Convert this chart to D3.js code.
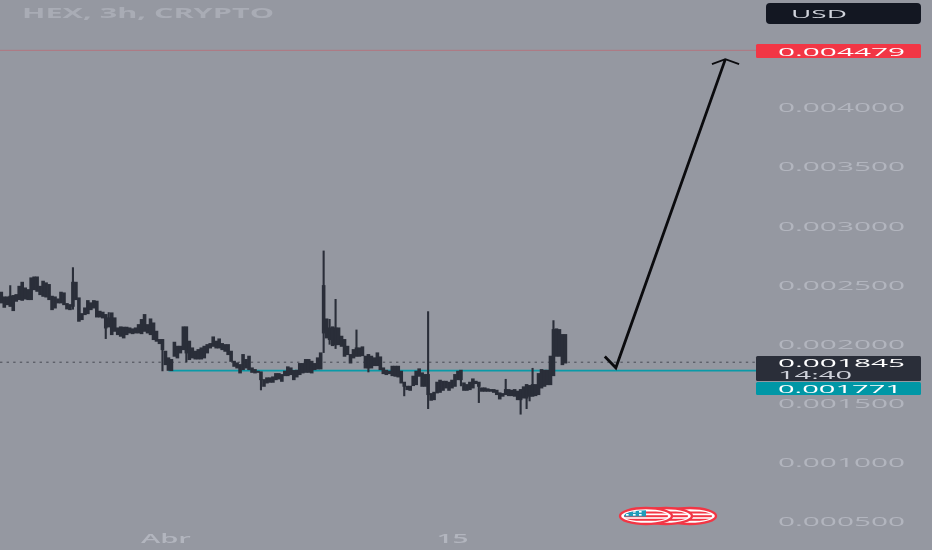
<!DOCTYPE html>
<html><head><meta charset="utf-8">
<style>html,body{margin:0;padding:0;background:#9598a1;overflow:hidden}svg{display:block;filter:blur(.35px)}text{font-family:"Open Sans","Liberation Sans",sans-serif}</style>
<script src="https://cdn.jsdelivr.net/npm/d3@7"></script>
</head><body><svg id="c" width="932" height="550"></svg>
<script>
// all prices in millionths of USD
const bodyHigh=[2434,2394,2394,2400,2406,2414,2484,2518,2470,2456,2555,2563,2563,2484,2527,2513,2499,2400,2394,2377,2434,2428,2338,2329,2518,2518,2386,2253,2301,2363,2344,2363,2358,2273,2265,2245,2217,2259,2217,2132,2141,2138,2138,2132,2124,2132,2160,2203,2245,2160,2208,2174,2104,2034,2034,1935,1879,1865,2011,1977,1977,2141,2141,2020,1963,1935,1949,1963,1977,1991,2000,2056,2020,2039,2000,1991,1991,1935,1850,1836,1822,1907,1865,1893,1794,1780,1766,1760,1695,1710,1710,1718,1746,1746,1738,1766,1803,1794,1772,1774,1831,1831,1865,1865,1850,1831,1879,1921,2490,2208,2132,2141,2132,2132,2062,2034,1977,1907,1949,1963,1963,1972,1893,1907,1893,1879,1921,1887,1794,1774,1766,1808,1808,1808,1766,1673,1639,1639,1724,1766,1786,1752,1738,1738,1577,1588,1673,1690,1681,1681,1673,1690,1738,1766,1774,1667,1653,1673,1701,1681,1673,1625,1625,1617,1611,1611,1605,1583,1577,1611,1611,1605,1611,1597,1611,1634,1653,1645,1653,1653,1746,1780,1774,1774,1893,2118,2124,2118,2076,2076];
const bodyLow=[2344,2307,2329,2315,2279,2358,2372,2366,2377,2372,2372,2456,2442,2414,2400,2394,2372,2287,2301,2344,2344,2329,2293,2287,2315,2372,2189,2203,2245,2253,2287,2301,2225,2225,2217,2132,2141,2076,2104,2076,2062,2048,2076,2090,2084,2090,2090,2084,2104,2090,2076,2034,2020,2000,1949,1822,1774,1772,1893,1879,1921,1949,1921,1865,1879,1870,1870,1870,1879,1921,1963,1977,1963,1963,1949,1935,1907,1850,1808,1794,1752,1780,1794,1780,1757,1752,1757,1695,1639,1667,1673,1673,1695,1701,1681,1729,1729,1738,1695,1718,1738,1752,1757,1757,1752,1780,1786,1786,2090,2048,2034,1983,1991,1991,1977,1893,1907,1836,1879,1893,1893,1898,1794,1794,1794,1814,1814,1780,1746,1738,1746,1729,1724,1718,1667,1639,1611,1605,1645,1653,1724,1639,1639,1569,1521,1526,1583,1588,1605,1625,1605,1625,1639,1695,1695,1605,1605,1611,1625,1662,1639,1597,1597,1597,1597,1588,1569,1532,1555,1569,1560,1560,1555,1526,1526,1540,1540,1555,1555,1560,1569,1625,1639,1653,1653,1729,1893,1893,1822,1836];
const wickBars=[3,24,35,36,54,62,87,108,110,112,119,123,135,143,154,160,169,174,176,177,178,185];
const wickHigh=[2493,2645,2245,2265,2034,2141,1760,2786,2208,2377,2118,1907,1673,2273,1774,1673,1701,1611,1653,1645,1794,2197];
const wickLow=[2315,2287,2039,2141,1766,1842,1605,1921,1991,1955,1893,1757,1555,1447,1639,1498,1569,1400,1447,1512,1555,1729];
const priceTicks=[4000,3500,3000,2500,2000,1500,1000,500];
const timeTickBars=[55,151];
const timeTickLabels=["Abr","15"];
const lastPrice=1845, targetPrice=4479, supportPrice=1771;
const arrowIdx=[202.2,205.9,242.6];
const arrowPrices=[1890,1795,4405];
const arrowHeadIdx=[238.1,242.6,247.2];
const arrowHeadPrices=[4362,4405,4362];

const svg=d3.select("#c");
const x=d3.scaleLinear().domain([0,189]).range([1.3,565.4]);
const y=d3.scaleLinear().domain([500e-6,4000e-6]).range([521,107]);
const P=v=>v*1e-6;
const dark="#2a2e39";
const axisW=127;

// guides
svg.append("line").attr("x1",0).attr("x2",757).attr("y1",y(P(targetPrice))).attr("y2",y(P(targetPrice))).attr("stroke","#b27580").attr("stroke-width",1);
svg.append("line").attr("x1",0).attr("x2",757).attr("y1",y(P(lastPrice))+.3).attr("y2",y(P(lastPrice))+.3).attr("stroke","#474a54").attr("stroke-width",1).attr("stroke-dasharray","2.4 4.2");
svg.append("line").attr("x1",x(56)).attr("x2",757).attr("y1",y(P(supportPrice))).attr("y2",y(P(supportPrice))).attr("stroke","#0a9aa8").attr("stroke-width",1.8);

// candles
const idx=d3.range(bodyHigh.length);
svg.append("g").selectAll("rect").data(idx).join("rect")
 .attr("x",i=>x(i)-1.8).attr("width",3.6)
 .attr("y",i=>y(P(bodyHigh[i]))-.5).attr("height",i=>Math.max(2,y(P(bodyLow[i]))-y(P(bodyHigh[i]))+1))
 .attr("fill",dark);
svg.append("g").selectAll("line").data(wickBars).join("line")
 .attr("x1",i=>x(i)).attr("x2",i=>x(i))
 .attr("y1",(i,k)=>y(P(wickHigh[k]))).attr("y2",(i,k)=>y(P(wickLow[k])))
 .attr("stroke",dark).attr("stroke-width",2.1);

// arrow
const ln=d3.line().x(d=>x(d[0])).y(d=>y(P(d[1])));
svg.append("path").attr("d",ln(d3.zip(arrowIdx,arrowPrices))).attr("fill","none").attr("stroke","#0b0b0e").attr("stroke-width",2.8);
svg.append("path").attr("d",ln(d3.zip(arrowHeadIdx,arrowHeadPrices))).attr("fill","none").attr("stroke","#0b0b0e").attr("stroke-width",1.8);

// price axis
const gy=svg.append("g").attr("transform","translate(778,1)").call(d3.axisRight(y).tickValues(priceTicks.map(P)).tickSize(0).tickPadding(0).tickFormat(d3.format(".6f")));
gy.select(".domain").remove();
gy.selectAll("text").attr("fill","#b2b5be").attr("font-size",12).attr("textLength",axisW).attr("lengthAdjust","spacingAndGlyphs");

// time axis
const gx=svg.append("g").attr("transform","translate(0,534)").call(d3.axisBottom(x).tickValues(timeTickBars).tickSize(0).tickPadding(0).tickFormat((d,i)=>timeTickLabels[i]));
gx.select(".domain").remove();
gx.selectAll("text").attr("fill","#b2b5be").attr("font-size",12.5).attr("font-weight",600).attr("textLength",(d,i)=>i?32:50).attr("lengthAdjust","spacingAndGlyphs");

// title
svg.append("text").text("HEX, 3h, CRYPTO").attr("x",22).attr("y",18).attr("fill","#a9acb5").attr("font-size",14).attr("font-weight",700).attr("textLength",252).attr("lengthAdjust","spacingAndGlyphs");

// tags
function tag(yTop,h,fill,xL){svg.append("rect").attr("x",xL).attr("y",yTop).attr("width",921-xL).attr("height",h).attr("rx",1.5).attr("fill",fill);}
function tagText(t,yb,c,w,xL,fw){svg.append("text").text(t).attr("x",xL).attr("y",yb).attr("fill",c).attr("font-size",11.5).attr("font-weight",fw||500).attr("textLength",w).attr("lengthAdjust","spacingAndGlyphs");}
svg.append("rect").attr("x",766).attr("y",3).attr("width",155).attr("height",21).attr("rx",4).attr("fill","#131722");
tagText("USD",18,"#d1d4dc",56,791);
tag(44,14,"#f23645",756);
tagText("0.004479",55.5,"#ffffff",127,778);
tag(356,25,dark,756);
tagText("0.001845",367,"#ffffff",127,778);
tagText("14:40",379,"#d1d4dc",74,778);
tag(382,13,"#0097a6",756);
tagText("0.001771",393,"#ffffff",124,778);

// flag marks
const flagCx=[690,666,646];
const defs=svg.append("defs");
flagCx.forEach((cx,k)=>{
  const id="f"+k;
  defs.append("clipPath").attr("id",id).append("ellipse").attr("cx",cx).attr("cy",516).attr("rx",22).attr("ry",5.8);
  const g=svg.append("g");
  g.append("ellipse").attr("cx",cx).attr("cy",516).attr("rx",26).attr("ry",8).attr("fill","#fff").attr("stroke","#f23645").attr("stroke-width",2.4);
  const s=g.append("g").attr("clip-path",`url(#${id})`);
  [511.5,515.2,518.8].forEach(v=>s.append("rect").attr("x",cx-28).attr("y",v).attr("width",56).attr("height",2).attr("fill","#f23645"));
  if(k===2){
    s.append("rect").attr("x",cx-24).attr("y",509).attr("width",24).attr("height",7.5).attr("fill","#1e9cbb");
    [-20,-13,-7].forEach(dx=>[511,514].forEach(v=>s.append("rect").attr("x",cx+dx).attr("y",v).attr("width",2.6).attr("height",1.6).attr("fill","#fff")));
  }
});
</script></body></html>
